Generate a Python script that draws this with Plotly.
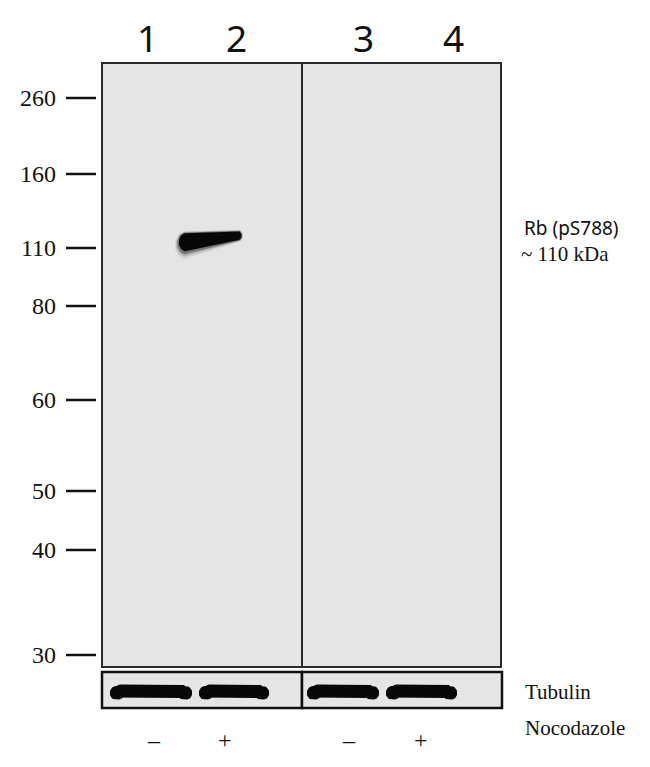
import numpy as np
import plotly.graph_objects as go

# ------------------------------------------------
# Blot data
# ------------------------------------------------
ladder_kda = [260, 160, 110, 80, 60, 50, 40, 30]
ladder_y = [98, 174, 248, 306, 400, 491, 550, 655]   # migration (px from top of canvas)

lane_labels = ["1", "2", "3", "4"]
nocodazole = ["\u2013", "+", "\u2013", "+"]
rb_signal = [0, 1, 0, 0]          # Rb (pS788) band present?
rb_apparent_kda = 115
tubulin_signal = [1, 1, 1, 1]

# ------------------------------------------------
# Layout constants (pixels)
# ------------------------------------------------
W, H = 650, 767
OFF = 8   # page body margin
lane_label_x = [147, 236, 363, 453]
pm_x = [154, 225, 349, 421]
rb_span = [(178, 243)] * 4
tub_span = [(110, 192), (199, 269), (307, 379), (386, 457)]
tub_y = 691

SERIF = "Liberation Serif"
SANS = "Noto Sans"


def band_outline(x0, x1, yl, yr, hl, hr, n=24):
    # stadium-like shape: center line from (x0,yl) to (x1,yr), half-thickness hl -> hr
    t = np.linspace(0, 1, n)
    xs = x0 + (x1 - x0) * t
    yc = yl + (yr - yl) * t
    hh = hl + (hr - hl) * t
    top_x, top_y = xs, yc - hh
    a = np.linspace(-np.pi / 2, np.pi / 2, n)
    right_x = x1 + hr * 0.8 * np.cos(a)
    right_y = yr + hr * np.sin(a)
    bot_x, bot_y = xs[::-1], (yc + hh)[::-1]
    a2 = np.linspace(np.pi / 2, 3 * np.pi / 2, n)
    left_x = x0 + hl * 0.8 * np.cos(a2)
    left_y = yl + hl * np.sin(a2)
    px = np.concatenate([top_x, right_x, bot_x, left_x, top_x[:1]])
    py = np.concatenate([top_y, right_y, bot_y, left_y, top_y[:1]])
    return px, py


def fill_trace(px, py, color):
    return go.Scatter(x=px, y=py, mode="lines", fill="toself", fillcolor=color,
                      line=dict(width=0), hoverinfo="skip", showlegend=False)


def add_band(fig, x0, x1, yl, yr, hl, hr, blur=True):
    if blur:
        for grow, alpha in [(5, 0.07), (3.5, 0.15), (2, 0.35)]:
            px, py = band_outline(x0, x1, yl + grow * 0.6, yr, hl + grow, hr + grow * 0.4)
            fig.add_trace(fill_trace(px, py, f"rgba(0,0,0,{alpha})"))
    px, py = band_outline(x0, x1, yl, yr, hl, hr)
    fig.add_trace(fill_trace(px, py, "#080808"))


fig = go.Figure()

# gel panels
panel_fill = "#e5e5e5"
for x0, x1 in [(102, 302), (302, 501)]:
    fig.add_shape(type="rect", x0=x0, x1=x1, y0=63, y1=667, layer="below",
                  fillcolor=panel_fill, line=dict(color="#2b2b2b", width=2))
for x0, x1 in [(102, 302), (302, 502)]:
    fig.add_shape(type="rect", x0=x0, x1=x1, y0=672, y1=708, layer="below",
                  fillcolor=panel_fill, line=dict(color="#111111", width=2.5))

# ladder ticks
tx, ty = [], []
for y in ladder_y:
    tx += [66, 96, None]
    ty += [y, y, None]
fig.add_trace(go.Scatter(x=tx, y=ty, mode="lines", line=dict(color="#111111", width=2.5),
                         hoverinfo="skip", showlegend=False))
for kda, y in zip(ladder_kda, ladder_y):
    fig.add_annotation(x=58, y=y, text=str(kda), xanchor="right", yanchor="middle",
                       showarrow=False, font=dict(family=SERIF, size=24, color="#111111"))

# Rb band position from the ladder (log MW interpolation)
log_kda = np.log10(ladder_kda)[::-1]
rb_y = float(np.interp(np.log10(rb_apparent_kda), log_kda, np.array(ladder_y)[::-1]))
for sig, (x0, x1) in zip(rb_signal, rb_span):
    if sig:
        add_band(fig, x0 + 8, x1 - 5, rb_y + 3, rb_y - 3.5, 9, 4.5)

# tubulin bands (slightly flared ends)
for sig, (x0, x1) in zip(tubulin_signal, tub_span):
    if sig:
        add_band(fig, x0 + 6, x1 - 6, tub_y + 1, tub_y + 1, 6, 6, blur=False)
        px, py = band_outline(x0 + 10, x1 - 10, tub_y - 1, tub_y - 1, 5.5, 5.5)
        fig.add_trace(fill_trace(px, py, "#080808"))
        for xe in (x0 + 7, x1 - 7):
            px, py = band_outline(xe - 2, xe + 2, tub_y + 2, tub_y + 2, 6.5, 6.5)
            fig.add_trace(fill_trace(px, py, "#080808"))

# lane labels
for lab, x in zip(lane_labels, lane_label_x):
    fig.add_annotation(x=x, y=37, text=lab, showarrow=False, xanchor="center", yanchor="middle",
                       font=dict(family=SANS, size=37, color="#111111"))

# treatment labels
for lab, x in zip(nocodazole, pm_x):
    fig.add_annotation(x=x, y=740, text=lab, showarrow=False, xanchor="center", yanchor="middle",
                       font=dict(family=SERIF, size=24, color="#111111"))

# right side labels
fig.add_annotation(x=522, y=228, text="Rb (pS788)", showarrow=False, xanchor="left",
                   yanchor="middle", font=dict(family=SANS, size=19, color="#111111"))
fig.add_annotation(x=519, y=254, text="~ 110 kDa", showarrow=False, xanchor="left",
                   yanchor="middle", font=dict(family=SERIF, size=21, color="#111111"))
fig.add_annotation(x=523, y=692, text="Tubulin", showarrow=False, xanchor="left",
                   yanchor="middle", font=dict(family=SERIF, size=21, color="#111111"))
fig.add_annotation(x=523, y=728, text="Nocodazole", showarrow=False, xanchor="left",
                   yanchor="middle", font=dict(family=SERIF, size=21, color="#111111"))

fig.update_layout(
    width=W, height=H,
    margin=dict(l=0, r=0, t=0, b=0),
    paper_bgcolor="white", plot_bgcolor="white",
    xaxis=dict(range=[OFF, W + OFF], visible=False, fixedrange=True),
    yaxis=dict(range=[H + OFF, OFF], visible=False, fixedrange=True),
    showlegend=False,
)

fig.write_html("out.html")
